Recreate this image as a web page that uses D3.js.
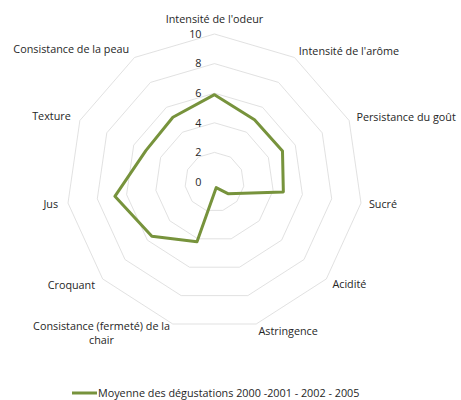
<!DOCTYPE html>
<html>
<head>
<meta charset="utf-8">
<script src="https://cdn.jsdelivr.net/npm/d3@7"></script>
<style>
  body { margin: 0; background: #fff; }
  text { font-family: "Open Sans", sans-serif; fill: #262626; }
</style>
</head>
<body>
<script>
// radar chart - moyenne des dégustations
var axes = ["Intensité de l'odeur", "Intensité de l'arôme", "Persistance du goût", "Sucré",
  "Acidité", "Astringence", "Consistance (fermeté) de la chair", "Croquant", "Jus",
  "Texture", "Consistance de la peau"];
var values = [5.9, 5.0, 5.05, 4.7, 1.2, 0.4, 4.2, 5.6, 6.8, 5.1, 5.2];
var ticks = [0, 2, 4, 6, 8, 10];
var seriesName = "Moyenne des dégustations 2000 -2001 - 2002 - 2005";

var width = 461, height = 400;
var cx = 214.5, cy = 182, R = 148;
var fs = "10.8px";

var svg = d3.select("body").append("svg")
  .attr("width", width)
  .attr("height", height);

var r = d3.scaleLinear().domain([0, 10]).range([0, R]);
var angle = d3.scaleLinear().domain([0, axes.length]).range([0, 2 * Math.PI]);

function pt(i, v){
  var a = angle(i);
  return [cx + r(v) * Math.sin(a), cy - r(v) * Math.cos(a)];
}

var g = svg.append("g");

// grid rings (no spokes in the original)
ticks.slice(1).forEach(function(t){
  g.append("polygon")
    .attr("points", axes.map(function(d, i){ return pt(i, t).join(","); }).join(" "))
    .attr("fill", "none")
    .attr("stroke", "#d9d9d9")
    .attr("stroke-width", 0.8);
});

// tick labels
g.selectAll(".tick")
  .data(ticks)
  .enter()
  .append("text")
  .attr("class", "tick")
  .attr("x", cx - 13)
  .attr("y", function(d){ return cy - r(d); })
  .attr("dy", "0.35em")
  .attr("text-anchor", "end")
  .style("font-size", fs)
  .text(function(d){ return d; });

// axis labels
axes.forEach(function(d, i){
  var a = angle(i);
  var s = Math.sin(a);
  var off = i == 0 ? 15 : (s < 0 ? 10 : 8);
  var x = cx + (R + off) * Math.sin(a),
      y = cy - (R + off) * Math.cos(a);
  var anchor = Math.abs(s) < 0.01 ? "middle" : (s > 0 ? "start" : "end");
  if (d.indexOf("(fermeté)") > -1){
    var t = g.append("text")
      .attr("text-anchor", "middle")
      .style("font-size", fs);
    var l1 = t.append("tspan").text("Consistance (fermeté) de la");
    var w = l1.node().getComputedTextLength();
    var mx = x - w / 2;
    l1.attr("x", mx).attr("y", y - 7).attr("dy", "0.35em");
    t.append("tspan").attr("x", mx).attr("y", y + 7).attr("dy", "0.35em").text("chair");
  } else {
    g.append("text")
      .attr("x", x)
      .attr("y", y)
      .attr("dy", "0.35em")
      .attr("text-anchor", anchor)
      .style("font-size", fs)
      .text(d);
  }
});

// series
var line = d3.lineRadial()
  .angle(function(d, i){ return angle(i); })
  .radius(function(d){ return r(d); })
  .curve(d3.curveLinearClosed);

g.append("path")
  .datum(values)
  .attr("transform", "translate(" + cx + "," + cy + ")")
  .attr("d", line)
  .attr("fill", "none")
  .attr("stroke", "#77933c")
  .attr("stroke-width", 3)
  .attr("stroke-linejoin", "round");

// legend
var leg = svg.append("g").attr("transform", "translate(72,393)");
leg.append("line")
  .attr("x1", 0).attr("x2", 25)
  .attr("y1", 0).attr("y2", 0)
  .attr("stroke", "#77933c")
  .attr("stroke-width", 3);
leg.append("text")
  .attr("x", 26)
  .attr("y", 0)
  .attr("dy", "0.35em")
  .style("font-size", fs)
  .text(seriesName);
</script>
</body>
</html>
